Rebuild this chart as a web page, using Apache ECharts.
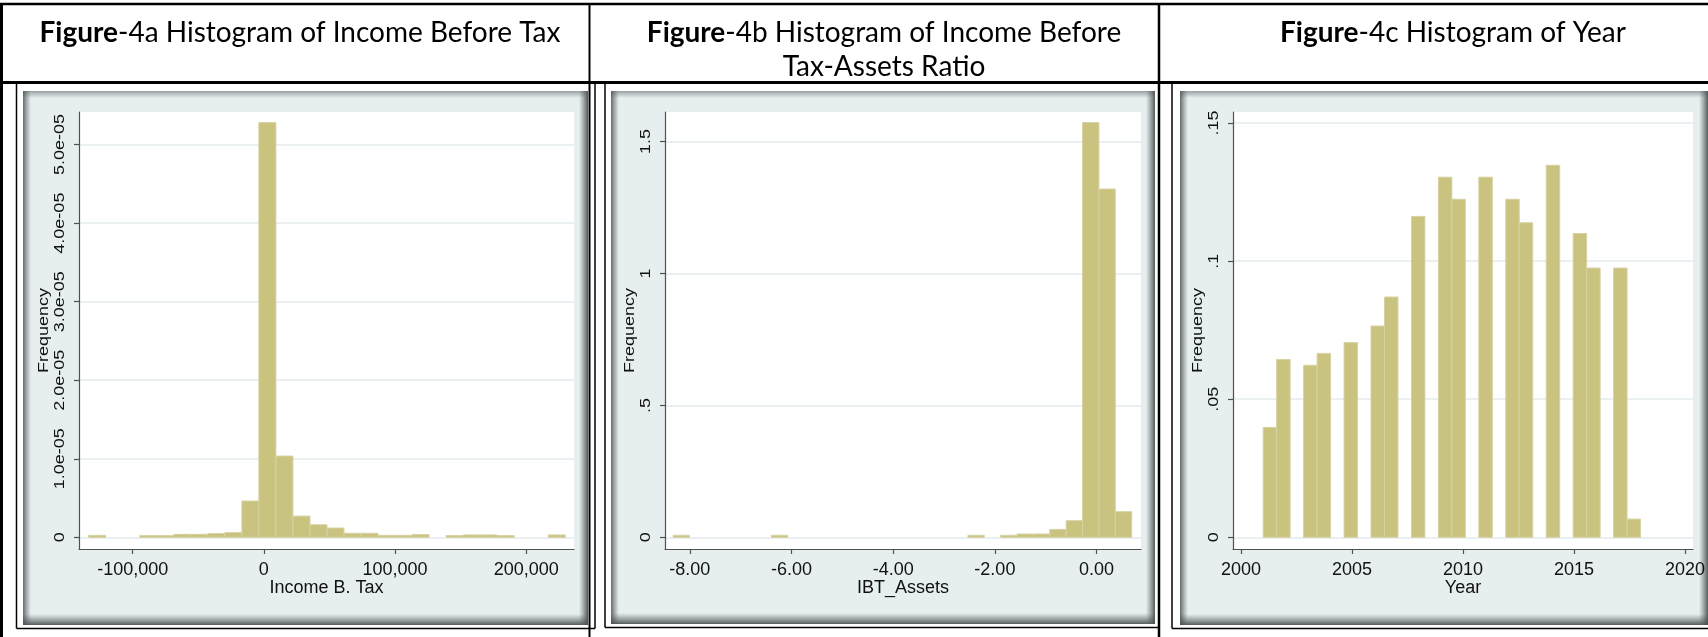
<!DOCTYPE html>
<html>
<head>
<meta charset="utf-8">
<script src="https://cdn.jsdelivr.net/npm/echarts@6/dist/echarts.min.js"></script>
<style>
  html, body { margin: 0; padding: 0; background: #ffffff; }
  #chart { width: 1708px; height: 637px; }
</style>
</head>
<body>
<div id="chart"></div>
<script>
// ---- Figure-4a: income before tax (28 equal-width bins, density scale) ----
const incomeBinStart = -133600;
const incomeBinWidth = 12980;
const incomeDensity = [
  2.5e-7, 0, 0, 2.1e-7, 2.1e-7, 3.8e-7, 3.8e-7, 4.7e-7, 6.0e-7, 4.62e-6,
  5.28e-5, 1.034e-5, 2.7e-6, 1.6e-6, 1.18e-6, 5.1e-7, 5.1e-7, 2.5e-7, 2.5e-7, 3.4e-7,
  0, 2.1e-7, 3.0e-7, 3.0e-7, 2.1e-7, 0, 0, 3.0e-7
];
const incomeXTicks = [-100000, 0, 100000, 200000];
const incomeXLabels = ['-100,000', '0', '100,000', '200,000'];
const incomeYTicks = [0, 1e-5, 2e-5, 3e-5, 4e-5, 5e-5];
const incomeYLabels = ['0', '1.0e-05', '2.0e-05', '3.0e-05', '4.0e-05', '5.0e-05'];

// ---- Figure-4b: income before tax / assets ----
const ratioBinStart = -8.328;
const ratioBinWidth = 0.3221;
const ratioDensity = [
  0.0076, 0, 0, 0, 0, 0, 0.0076, 0, 0, 0,
  0, 0, 0, 0, 0, 0, 0, 0, 0.0076, 0,
  0.0076, 0.0125, 0.0125, 0.030, 0.063, 1.572, 1.320, 0.097
];
const ratioXTicks = [-8, -6, -4, -2, 0];
const ratioXLabels = ['-8.00', '-6.00', '-4.00', '-2.00', '0.00'];
const ratioYTicks = [0, 0.5, 1, 1.5];
const ratioYLabels = ['0', '.5', '1', '1.5'];

// ---- Figure-4c: year ----
const yearBinStart = 2001;
const yearBinWidth = 0.6071;
const yearDensity = [
  0.0398, 0.0644, 0, 0.0623, 0.0666, 0, 0.0705, 0, 0.0765, 0.0870,
  0, 0.1162, 0, 0.1304, 0.1224, 0, 0.1304, 0, 0.1224, 0.1139,
  0, 0.1347, 0, 0.1100, 0.0975, 0, 0.0975, 0.0066
];
const yearXTicks = [2000, 2005, 2010, 2015, 2020];
const yearXLabels = ['2000', '2005', '2010', '2015', '2020'];
const yearYTicks = [0, 0.05, 0.1, 0.15];
const yearYLabels = ['0', '.05', '.1', '.15'];

const yTitle = 'Frequency';

// ---- styling ----
const BAR_FILL = '#cac27f';
const BAR_EDGE = '#d7d2a2';
const AXIS_COLOR = '#505050';
const GRID_COLOR = '#e3ebed';
const PANEL_BG = '#e7eef0';
const TEXT_COLOR = '#111111';
const NARROW = '"Liberation Sans Narrow", "Arial Narrow", "Liberation Sans", Arial, sans-serif';
const SANS = '"Liberation Sans", Arial, sans-serif';
const Y_LABEL_OFFSET = 18.5;   // y axis line -> centre of the vertical tick labels
const Y_TITLE_OFFSET = 35;     // y axis line -> centre of the vertical axis title
const V_TEXT_SQUEEZE = 0.8;    // vertical text is drawn slightly thinner, like the Stata export

function binRows(start, width, density) {
  const rows = [];
  density.forEach((d, i) => {
    if (d > 0) rows.push([start + i * width, start + (i + 1) * width, d]);
  });
  return rows;
}

function labelOf(ticks, labels) {
  return function (v) {
    let best = 0;
    for (let i = 1; i < ticks.length; i++) {
      if (Math.abs(ticks[i] - v) < Math.abs(ticks[best] - v)) best = i;
    }
    return labels[best];
  };
}

// plot regions (white area of each Stata graph)
const plots = [
  { left: 79, top: 112, width: 495, height: 437 },
  { left: 665, top: 112, width: 476, height: 437 },
  { left: 1233, top: 112, width: 463, height: 437 }
];

const panels = [
  { x: 23, y: 91, w: 565, h: 534, xMin: -140960, xMax: 236460, yMin: -1.49e-6, yMax: 5.415e-5,
    xTicks: incomeXTicks, xLabels: incomeXLabels, yTicks: incomeYTicks, yLabels: incomeYLabels,
    xName: 'Income B. Tax', rows: binRows(incomeBinStart, incomeBinWidth, incomeDensity) },
  { x: 611, y: 91, w: 544, h: 533, xMin: -8.488, xMax: 0.874, yMin: -0.0443, yMax: 1.612,
    xTicks: ratioXTicks, xLabels: ratioXLabels, yTicks: ratioYTicks, yLabels: ratioYLabels,
    xName: 'IBT_Assets', rows: binRows(ratioBinStart, ratioBinWidth, ratioDensity) },
  { x: 1180, y: 91, w: 528, h: 534, xMin: 1999.64, xMax: 2020.36, yMin: -0.00423, yMax: 0.154,
    xTicks: yearXTicks, xLabels: yearXLabels, yTicks: yearYTicks, yLabels: yearYLabels,
    xName: 'Year', rows: binRows(yearBinStart, yearBinWidth, yearDensity) }
];

// Stata-style graph region: bluish grey with a soft inner shadow at its edges
function frameElements(p) {
  const grad = (x2, y2, c0, c1) => ({
    type: 'linear', x: 0, y: 0, x2: x2, y2: y2,
    colorStops: [{ offset: 0, color: c0 }, { offset: 1, color: c1 }]
  });
  const none = 'rgba(90,98,100,0)';
  return [
    { type: 'rect', z: -10, shape: { x: p.x, y: p.y, width: p.w, height: p.h }, style: { fill: PANEL_BG } },
    { type: 'rect', z: -9, shape: { x: p.x, y: p.y, width: p.w, height: 7 },
      style: { fill: grad(0, 1, 'rgba(90,98,100,0.55)', none) } },
    { type: 'rect', z: -9, shape: { x: p.x, y: p.y + p.h - 11, width: p.w, height: 11 },
      style: { fill: grad(0, 1, none, 'rgba(70,76,78,0.9)') } },
    { type: 'rect', z: -9, shape: { x: p.x, y: p.y, width: 8, height: p.h },
      style: { fill: grad(1, 0, 'rgba(70,76,78,0.8)', none) } },
    { type: 'rect', z: -9, shape: { x: p.x + p.w - 9, y: p.y, width: 9, height: p.h },
      style: { fill: grad(1, 0, none, 'rgba(70,76,78,0.9)') } }
  ];
}

function line(x1, y1, x2, y2, w) {
  return { type: 'line', z: 50, shape: { x1, y1, x2, y2 }, style: { stroke: '#000', lineWidth: w } };
}

// document table rules and image borders
const tableLines = [
  line(0, 4, 1708, 4, 2.5),
  line(1.5, 3, 1.5, 637, 3),
  line(0, 82.5, 1708, 82.5, 3),
  line(589.5, 3, 589.5, 637, 2),
  line(1159, 3, 1159, 637, 2.5),
  line(16.5, 84, 16.5, 628.5, 1.5),
  line(16.5, 628.5, 595, 628.5, 1.5),
  line(595, 84, 595, 628.5, 1.5),
  line(605, 84, 605, 627.5, 1.5),
  line(605, 627.5, 1158, 627.5, 1.5),
  line(1172, 84, 1172, 628.5, 1.5),
  line(1172, 628.5, 1708, 628.5, 1.5)
];

let graphicElements = [];
panels.forEach(p => { graphicElements = graphicElements.concat(frameElements(p)); });
graphicElements = graphicElements.concat(tableLines);

const TITLE_FONT = 'Lato, "Open Sans", sans-serif';
const titleStyle = {
  fontFamily: TITLE_FONT, fontSize: 28, fontWeight: 'normal',
  color: '#000', lineHeight: 34,
  rich: { b: { fontFamily: TITLE_FONT, fontSize: 28, fontWeight: 'bold', color: '#000', lineHeight: 34 } }
};

const option = {
  backgroundColor: '#ffffff',
  animation: false,
  title: [
    { text: '{b|Figure}-4a Histogram of Income Before Tax', left: 300, top: 16, textAlign: 'center', textStyle: titleStyle, padding: 0 },
    { text: '{b|Figure}-4b Histogram of Income Before\nTax-Assets Ratio', left: 884, top: 16, textAlign: 'center', textStyle: titleStyle, padding: 0 },
    { text: '{b|Figure}-4c Histogram of Year', left: 1453, top: 16, textAlign: 'center', textStyle: titleStyle, padding: 0 }
  ],
  graphic: { elements: graphicElements },
  grid: plots.map(g => ({
    left: g.left, top: g.top, width: g.width, height: g.height,
    show: true, backgroundColor: '#ffffff', borderWidth: 0, containLabel: false
  })),
  xAxis: panels.map((p, i) => ({
    type: 'value', gridIndex: i, min: p.xMin, max: p.xMax, position: 'bottom',
    axisLine: { show: true, onZero: false, lineStyle: { color: AXIS_COLOR, width: 1.2 } },
    axisTick: { show: true, length: 5, customValues: p.xTicks, lineStyle: { color: AXIS_COLOR, width: 1.2 } },
    axisLabel: {
      customValues: p.xTicks, formatter: labelOf(p.xTicks, p.xLabels), margin: 12,
      fontFamily: NARROW, fontSize: 18, lineHeight: 18, color: TEXT_COLOR
    },
    splitLine: { show: false },
    name: p.xName, nameLocation: 'middle', nameGap: 31, nameMoveOverlap: false,
    nameTextStyle: { fontFamily: NARROW, fontSize: 18, lineHeight: 16, color: TEXT_COLOR }
  })),
  yAxis: panels.map((p, i) => ({
    type: 'value', gridIndex: i, min: p.yMin, max: p.yMax, position: 'left',
    axisLine: { show: true, onZero: false, lineStyle: { color: AXIS_COLOR, width: 1.2 } },
    axisTick: { show: true, length: 5, customValues: p.yTicks, lineStyle: { color: AXIS_COLOR, width: 1.2 } },
    axisLabel: { show: false, customValues: p.yTicks },
    splitLine: { show: true, lineStyle: { color: GRID_COLOR, width: 1.5 } }
  })),
  series: panels.map((p, i) => ({
    type: 'custom', xAxisIndex: i, yAxisIndex: i, z: 3,
    data: p.rows,
    encode: { x: [0, 1], y: 2 },
    renderItem: function (params, api) {
      const topLeft = api.coord([api.value(0), api.value(2)]);
      const bottomRight = api.coord([api.value(1), 0]);
      return {
        type: 'rect',
        shape: {
          x: topLeft[0], y: topLeft[1],
          width: bottomRight[0] - topLeft[0], height: bottomRight[1] - topLeft[1]
        },
        style: { fill: BAR_FILL, stroke: BAR_EDGE, lineWidth: 1 }
      };
    }
  }))
};

const chart = echarts.init(document.getElementById('chart'), null, { renderer: 'canvas' });
chart.setOption(option);

// vertical (Stata-style) y tick labels and y titles, placed on each axis's scale
function verticalText(text, x, y) {
  return {
    type: 'text', z: 40, x: x, y: y, rotation: Math.PI / 2, scaleY: V_TEXT_SQUEEZE,
    style: { text: text, align: 'center', verticalAlign: 'middle', fontFamily: SANS, fontSize: 18, fill: TEXT_COLOR }
  };
}
const yTexts = [];
panels.forEach((p, i) => {
  const axisX = chart.convertToPixel({ xAxisIndex: i }, p.xMin);
  p.yTicks.forEach((t, k) => {
    yTexts.push(verticalText(p.yLabels[k], axisX - Y_LABEL_OFFSET, chart.convertToPixel({ yAxisIndex: i }, t)));
  });
  const midY = (chart.convertToPixel({ yAxisIndex: i }, p.yMin) + chart.convertToPixel({ yAxisIndex: i }, p.yMax)) / 2;
  yTexts.push(verticalText(yTitle, axisX - Y_TITLE_OFFSET, midY));
});
chart.setOption({ graphic: { elements: graphicElements.concat(yTexts) } });
</script>
</body>
</html>
